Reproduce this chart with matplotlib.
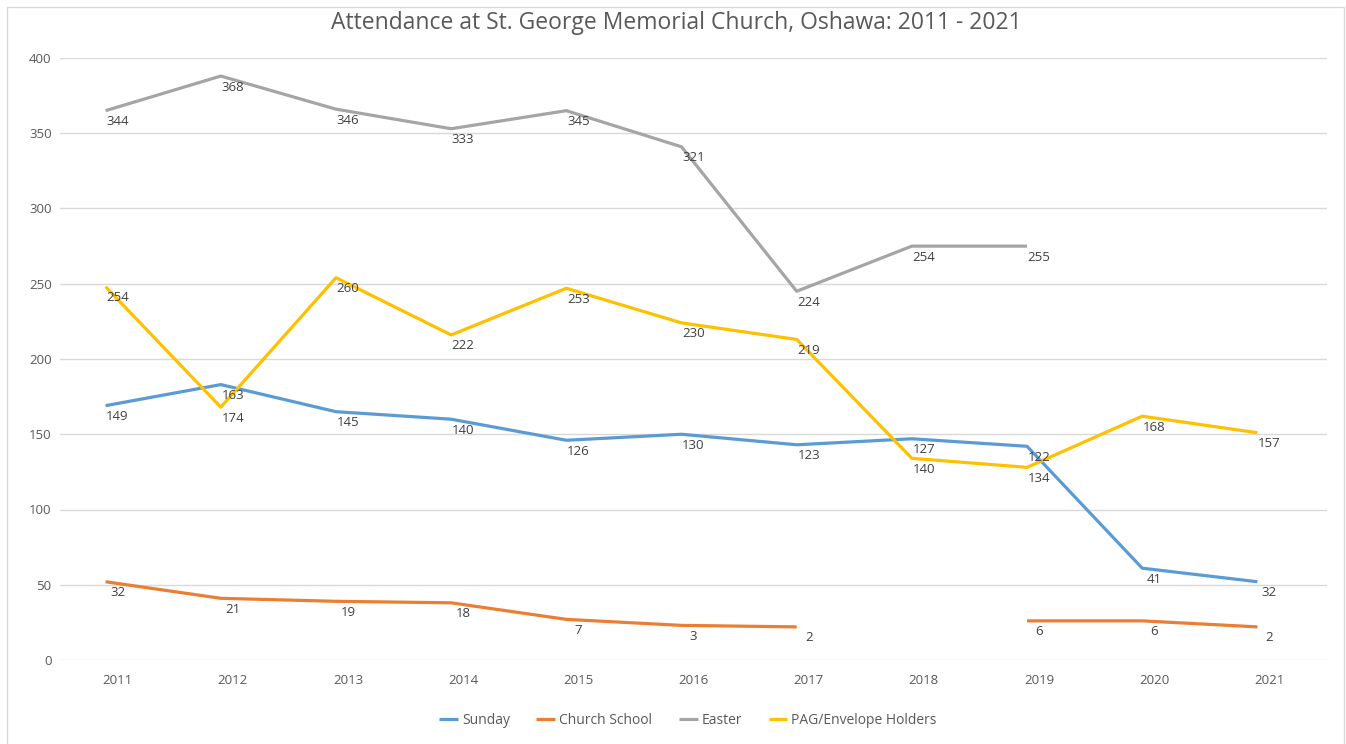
import matplotlib
matplotlib.use("Agg")
import matplotlib.pyplot as plt
import matplotlib.transforms as mtransforms
from matplotlib.patches import Rectangle
import numpy as np

years = ["2011", "2012", "2013", "2014", "2015", "2016", "2017", "2018", "2019", "2020", "2021"]

# plotted line positions (as drawn in the reference)
sunday_line = [169, 183, 165, 160, 146, 150, 143, 147, 142, 61, 52]
school_line = [52, 41, 39, 38, 27, 23, 22, None, 26, 26, 22]
easter_line = [365, 388, 366, 353, 365, 341, 245, 275, 275, None, None]
pag_line = [248, 168, 254, 216, 247, 224, 213, 134, 128, 162, 151]

# data label texts (as printed in the reference)
sunday_lbl = [149, 163, 145, 140, 126, 130, 123, 127, 122, 41, 32]
school_lbl = [32, 21, 19, 18, 7, 3, 2, None, 6, 6, 2]
easter_lbl = [344, 368, 346, 333, 345, 321, 224, 254, 255, None, None]
pag_lbl = [254, 174, 260, 222, 253, 230, 219, 140, 134, 168, 157]

series = [
    ("Sunday", sunday_line, sunday_lbl, "#5B9BD5"),
    ("Church School", school_line, school_lbl, "#ED7D31"),
    ("Easter", easter_line, easter_lbl, "#A5A5A5"),
    ("PAG/Envelope Holders", pag_line, pag_lbl, "#FFC000"),
]

FONT = ["Open Sans", "DejaVu Sans"]
plt.rcParams["font.family"] = FONT

W, H = 1346, 744
fig = plt.figure(figsize=(W / 100, H / 100), dpi=100)
fig.patch.set_facecolor("white")
fig.patches.append(Rectangle((7 / W, -0.01), (1344 - 7) / W, 1 - 7 / H + 0.01,
                             transform=fig.transFigure, fill=False,
                             edgecolor="#D9D9D9", linewidth=1.0))

left, right, top, bottom = 60, 1327, 58, 660
ax = fig.add_axes([left / W, 1 - bottom / H, (right - left) / W, (bottom - top) / H])
x = np.arange(len(years))
ax.set_xlim(-0.5, len(years) - 0.5)
ax.set_ylim(0, 400)
ax.set_yticks(np.arange(0, 401, 50))
ax.set_xticks(x)
ax.set_xticklabels(years)
for s in ax.spines.values():
    s.set_visible(False)
ax.tick_params(length=0, colors="#595959", labelsize=9.5)
ax.tick_params(axis="y", pad=6)
ax.tick_params(axis="x", pad=10)
ax.grid(axis="y", color="#D9D9D9", linewidth=1.0)
ax.set_axisbelow(True)

shift = mtransforms.offset_copy(ax.transData, fig=fig, x=-12, y=0, units="dots")

for name, vals, lbls, col in series:
    y = np.array([np.nan if v is None else v for v in vals], dtype=float)
    ax.plot(x, y, color=col, linewidth=2.3, label=name, transform=shift,
            solid_capstyle="butt", solid_joinstyle="round")
    for xi, v, l in zip(x, vals, lbls):
        if v is None or l is None:
            continue
        ax.annotate(str(l), (xi, v), xytext=(0, -11), textcoords="offset pixels",
                    ha="center", va="center", fontsize=9.5, color="#404040")

fig.text(676 / W, 1 - 23 / H, "Attendance at St. George Memorial Church, Oshawa: 2011 - 2021",
         ha="center", va="center", fontsize=16.5, color="#595959")

leg = fig.legend(loc="center", bbox_to_anchor=(688 / W, 1 - 720 / H), ncol=4,
                 frameon=False, fontsize=10, handlelength=1.35, handletextpad=0.3,
                 columnspacing=1.9)
for t in leg.get_texts():
    t.set_color("#595959")

fig.savefig("out.png", dpi=100, facecolor="white")
